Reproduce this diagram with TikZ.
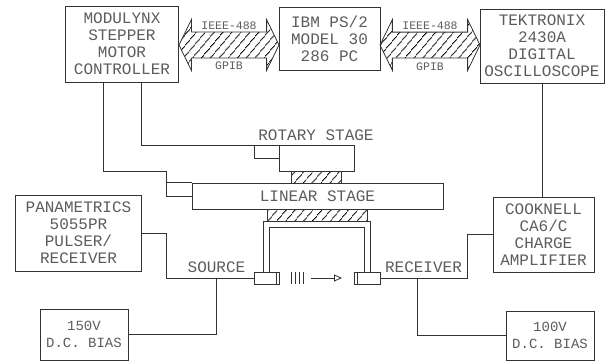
\documentclass[tikz,border=0pt]{standalone}
\usepackage{fontspec}
\setmainfont{Liberation Mono}
\usetikzlibrary{arrows.meta, shapes.arrows, patterns.meta}
\definecolor{inkDark}{HTML}{333333}
\definecolor{inkText}{HTML}{5C5C5C}

\begin{document}
\begin{tikzpicture}[
    x=1pt, y=-1pt,
    line width=0.8pt, draw=inkDark,
    blockbox/.style={rectangle, draw=inkDark, inner sep=0pt, align=center,
                 font=\fontsize{16}{17.1}\selectfont\color{inkText}},
    biasbox/.style={blockbox, minimum width=88pt,
                 font=\fontsize{14}{17.5}\selectfont\color{inkText}},
    hatchbox/.style={rectangle, inner sep=0pt, draw=inkDark,
                 pattern={Lines[angle=50, distance=6.5pt, line width=0.85pt]},
                 pattern color=black},
    busarrow/.style={double arrow, draw=inkDark, inner sep=0pt,
                 minimum height=100pt, minimum width=50pt,
                 double arrow head extend=12.5pt, double arrow tip angle=128,
                 pattern={Lines[angle=50, distance=6.5pt, line width=0.85pt]},
                 pattern color=black},
    buslabel/.style={inner sep=0pt, font=\fontsize{11.5}{12}\selectfont\color{inkText}},
    stagelabel/.style={inner sep=0pt, font=\fontsize{16}{17}\selectfont\color{inkText}},
    probebox/.style={rectangle, draw=inkDark, inner sep=0pt,
                 minimum height=12pt},
  ]
    \useasboundingbox (0,0) rectangle (605,364);

    \node[blockbox, minimum width=113pt, minimum height=76pt] (modulynx) at (122,44)
      {MODULYNX\\STEPPER\\MOTOR\\CONTROLLER};
    \node[blockbox, minimum width=101pt, minimum height=63pt] (ibm) at (329.5,38.5)
      {IBM PS/2\\MODEL 30\\286 PC};
    \node[blockbox, minimum width=124pt, minimum height=74pt] (tektronix) at (542,46)
      {TEKTRONIX\\2430A\\DIGITAL\\OSCILLOSCOPE};
    \node[blockbox, minimum width=125.5pt, minimum height=76pt] (panametrics) at (78.5,233)
      {PANAMETRICS\\5055PR\\PULSER/\\RECEIVER};
    \node[blockbox, minimum width=101pt, minimum height=75pt] (cooknell) at (543.5,234.5)
      {COOKNELL\\CA6/C\\CHARGE\\AMPLIFIER};
    \node[biasbox, minimum height=51pt] (biasleft) at (84,334.5)
      {150V\\D.C. BIAS};
    \node[biasbox, minimum height=49pt] (biasright) at (550,335.5)
      {100V\\D.C. BIAS};

    \node[busarrow] (busleft) at (229,45) {\rule{0pt}{25pt}};
    \node[busarrow] (busright) at (430,45) {\rule{0pt}{25pt}};
    \node[buslabel] (ieeeleft) at (229,25.5) {IEEE-488};
    \node[buslabel] (gpibleft) at (229,66) {GPIB};
    \node[buslabel] (ieeeright) at (430,25.5) {IEEE-488};
    \node[buslabel] (gpibright) at (430,67) {GPIB};

    \node[stagelabel] (rotarylabel) at (316,135.5) {ROTARY STAGE};
    \node[rectangle, draw=inkDark, minimum width=75pt, minimum height=25.5pt, inner sep=0pt]
      (rotary) at (316.5,158.5) {};
    \node[hatchbox, minimum width=50pt, minimum height=12pt] (rotaryhatch) at (316,177) {};
    \node[blockbox, minimum width=251pt, minimum height=26pt] (linear) at (317.5,196)
      {LINEAR STAGE};
    \node[hatchbox, minimum width=100pt, minimum height=12pt] (linearhatch) at (317,215) {};

    \node[probebox, minimum width=25pt] (srcprobe) at (266.5,278) {};
    \node[probebox, minimum width=26pt] (rcvprobe) at (367,278) {};
    \node[stagelabel] (srclabel) at (216.5,267) {SOURCE};
    \node[stagelabel] (rcvlabel) at (423.5,267) {RECEIVER};

    \coordinate (srcouter) at ([xshift=-3.5pt]srcprobe.north);
    \coordinate (srcinner) at ([xshift=2.5pt]srcprobe.north);
    \coordinate (rcvouter) at ([xshift=3.5pt]rcvprobe.north);
    \coordinate (rcvinner) at ([xshift=-3pt]rcvprobe.north);
    \coordinate (rotarytap) at (254,158.5);
    \coordinate (lineartap) at (166,171);
    \coordinate (srctap) at (166,278);
    \coordinate (rcvtap) at (467,278);
    \coordinate (srcbias) at (216.5,278);
    \coordinate (rcvbias) at (417.5,278);
    \coordinate (wavestart) at (311,278);
    \coordinate (waveend) at (342,278);

    \draw ([xshift=19pt]modulynx.south) |- (rotary.north east);
    \draw (rotary.west) -- (rotarytap) -- (rotarytap |- rotary.north);
    \draw ([xshift=-19pt]modulynx.south) |- (lineartap) -- (lineartap |- linear.west) -- (linear.west);
    \draw (linear.north west) -- (lineartap |- linear.north west);
    \draw (tektronix.south) -- (tektronix.south |- cooknell.north);

    \draw (srcouter) -- (srcouter |- linearhatch.south) -- (rcvouter |- linearhatch.south) -- (rcvouter);
    \draw (srcinner) -- ([yshift=-6pt]srcinner |- linearhatch.south)
      -- ([yshift=-6pt]rcvinner |- linearhatch.south) -- (rcvinner);
    \draw ([xshift=-3pt]srcprobe.north east) -- ([xshift=-3pt]srcprobe.south east);
    \draw ([xshift=4pt]rcvprobe.north west) -- ([xshift=4pt]rcvprobe.south west);

    \draw (panametrics.east) -| (srctap) -- (srcprobe.west);
    \draw (biasleft.east) -| (srcbias);
    \draw (cooknell.west) -| (rcvtap) -- (rcvprobe.east);
    \draw (biasright.west) -| (rcvbias);

    \foreach \xpos in {291.3,295.3,299.3,303.3} {
      \draw (\xpos,272) -- (\xpos,284);
    }
    \draw[-{Triangle[open, length=8pt, width=7pt]}] (wavestart) -- (waveend);
  \end{tikzpicture}
\end{document}
